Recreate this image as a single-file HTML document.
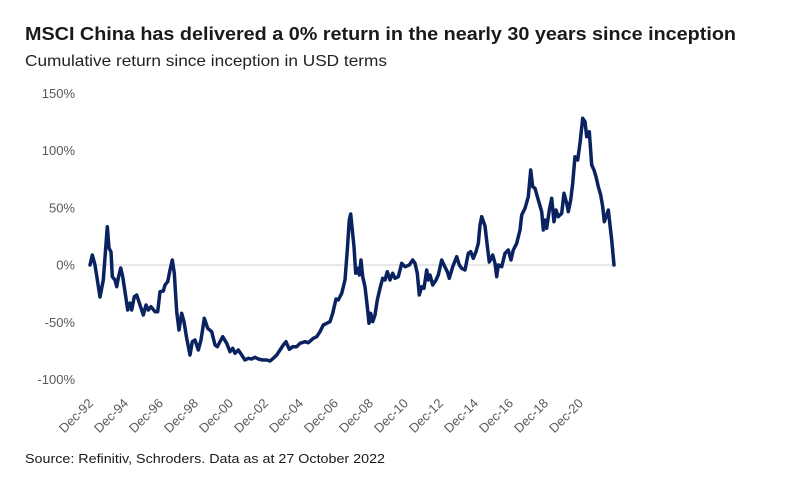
<!DOCTYPE html>
<html>
<head>
<meta charset="utf-8">
<style>
  html,body{margin:0;padding:0;background:#fff;}
  svg{display:block;}
  text{font-family:"Liberation Sans",sans-serif;}
</style>
</head>
<body>
<svg width="800" height="478" viewBox="0 0 800 478" xmlns="http://www.w3.org/2000/svg">
  <rect width="800" height="478" fill="#fff"/>
  <text x="25" y="40" font-size="18" font-weight="bold" fill="#1a1a1a" textLength="711" lengthAdjust="spacingAndGlyphs">MSCI China has delivered a 0% return in the nearly 30 years since inception</text>
  <text x="25" y="66" font-size="16" fill="#222" textLength="362" lengthAdjust="spacingAndGlyphs">Cumulative return since inception in USD terms</text>

  <g font-size="13" fill="#595959" text-anchor="end">
    <text x="75" y="98">150%</text>
    <text x="75" y="155">100%</text>
    <text x="75" y="212.5">50%</text>
    <text x="75" y="269.5">0%</text>
    <text x="75" y="327">-50%</text>
    <text x="75" y="384">-100%</text>
  </g>

  <line x1="88" y1="265" x2="614" y2="265" stroke="#d0d0d0" stroke-width="1"/>

  <g font-size="13" fill="#595959" text-anchor="end">
    <text transform="translate(94,404) rotate(-45)">Dec-92</text>
    <text transform="translate(129,404) rotate(-45)">Dec-94</text>
    <text transform="translate(164,404) rotate(-45)">Dec-96</text>
    <text transform="translate(199,404) rotate(-45)">Dec-98</text>
    <text transform="translate(234,404) rotate(-45)">Dec-00</text>
    <text transform="translate(269,404) rotate(-45)">Dec-02</text>
    <text transform="translate(304,404) rotate(-45)">Dec-04</text>
    <text transform="translate(339,404) rotate(-45)">Dec-06</text>
    <text transform="translate(374,404) rotate(-45)">Dec-08</text>
    <text transform="translate(409,404) rotate(-45)">Dec-10</text>
    <text transform="translate(444,404) rotate(-45)">Dec-12</text>
    <text transform="translate(479,404) rotate(-45)">Dec-14</text>
    <text transform="translate(514,404) rotate(-45)">Dec-16</text>
    <text transform="translate(549,404) rotate(-45)">Dec-18</text>
    <text transform="translate(584,404) rotate(-45)">Dec-20</text>
  </g>

  <polyline fill="none" stroke="#0a2360" stroke-width="3.5" stroke-linejoin="round" stroke-linecap="round" points="90,265 92.3,255 95,265 100,297 103.3,280 107.3,226.7 109,248 111,252 112.3,276.7 115,280 116.7,286.7 118.3,278 120.7,268 122.7,276.7 125,291.7 127.7,310 130,303 131.7,310 134.3,296.7 136.7,295 140,305 143.3,315 146,305 148.3,310 151,306.7 155,311.7 157.7,311.7 160,291.7 163.3,291 165,285 167.7,281.7 170,270 172.3,260 174.3,273.3 176.7,311.7 179,330 181.7,313.3 184,321.7 186.7,338.3 190,355 192.3,341.7 195,340 198.3,350 201,340 204.3,318.3 207.7,328.3 211.7,331.7 215,345 217.3,346.7 222.7,336.7 226.7,343.3 230,351.7 232.7,348.3 235,353.3 238.3,350 241.7,355 245,360 248.3,358.3 251.7,359 255,357.3 258.3,359 262.7,360 266.7,360 270,361 273.3,358.3 276.7,355 280,350 283.3,345 286,341.7 289.3,349.3 292.7,346.7 296.7,346.7 300,343.3 305,341.7 308.3,342.7 313.3,338.3 316.7,336.7 320,331.7 323.3,325 326.7,323.3 330,321.7 332.7,313.3 336,299 338.3,300 341.7,293.3 345,280 347.3,250 349.3,220 350.7,214 352.3,230 354,246.7 355.7,273.3 357.7,268.3 359.3,275 361,260 362.7,276.7 365,286.7 367.3,306.7 369,323.3 370.7,313.3 372.7,321.7 375,315 377.3,300 380,288.3 382.7,278.3 385,280 387.3,271.7 390,280 392.7,273.3 395,278.3 398.3,276.7 401.7,263.3 405,266.7 409.3,265 412.7,260 415,263.3 417.3,273.3 419.3,295 421.7,286.7 424,288.3 426.7,270 428.3,280 430,275 432.7,285 436,280 438.3,275 441.7,260 444,265 447.3,271.7 449.3,278.3 452.7,266.7 456.7,256.7 459.3,265 461.7,268.3 465,270 468.3,253.3 470.7,251.7 473.3,258.3 476,251.7 478.3,243.3 480,225 481.7,216.7 485,226 487.3,246 489.3,262 492.7,255 495,263.3 496.7,276.7 498.3,265 501.7,266.7 505,253.3 508.3,250 511,260 513.3,250 516.7,243.3 520,230 521.7,215 525,208.3 528.3,196.7 530.7,170 532.7,186.7 535,188.3 538.3,200 541.7,211.7 543.3,230 545,220 546.7,228.3 549.3,210 551.7,198.3 554,221.7 556,210 558.3,216.7 561.7,213.3 564,193.3 566.7,203.3 568.3,211.7 570.7,200 572.7,183.3 575,156.7 577.7,160 580,143.3 582.7,118.3 585,121.7 586.7,136.7 589.3,131.7 591.7,165 594,170 596,176.7 598.3,186.7 600.7,195 602.7,206.7 604.3,221.7 606.7,215 608.3,210 610,225 611.7,240 614,265"/>

  <text x="25" y="463" font-size="13" fill="#1a1a1a" textLength="360" lengthAdjust="spacingAndGlyphs">Source: Refinitiv, Schroders. Data as at 27 October 2022</text>
</svg>
</body>
</html>
